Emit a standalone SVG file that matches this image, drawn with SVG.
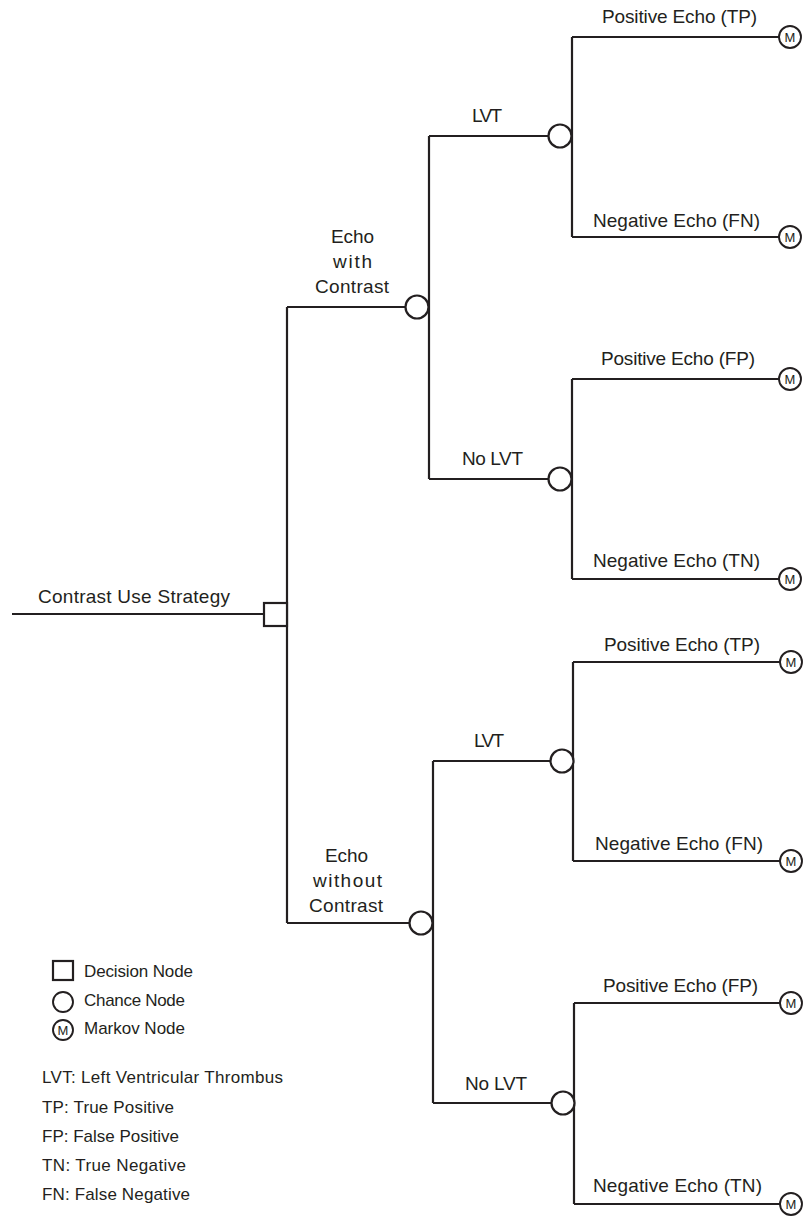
<svg xmlns="http://www.w3.org/2000/svg" width="805" height="1216" viewBox="0 0 805 1216">
<style>
.ln{fill:none;stroke:#231f20;stroke-width:2.2}
.nd{fill:#fff;stroke:#231f20;stroke-width:2.2}
.mk{fill:#fff;stroke:#231f20;stroke-width:1.9}
.t{font-family:"Liberation Sans",Arial,sans-serif;font-size:19px;fill:#231f20}
.lg{font-family:"Liberation Sans",Arial,sans-serif;font-size:17px;fill:#231f20}
.m{font-family:"Liberation Sans",Arial,sans-serif;font-size:13px;fill:#231f20;text-anchor:middle}
</style>
<rect width="805" height="1216" fill="#fff"/>
<g id="connectors">
<path class="ln" d="M12,614 H264"/>
<path class="ln" d="M287,307 V923"/>
<path class="ln" d="M287,307 H406"/>
<path class="ln" d="M287,923 H410"/>
<path class="ln" d="M429,136 V479"/>
<path class="ln" d="M429,136 H549"/>
<path class="ln" d="M429,479 H549"/>
<path class="ln" d="M433,761 V1103"/>
<path class="ln" d="M433,761 H551"/>
<path class="ln" d="M433,1103 H552"/>
<path class="ln" d="M572,37 V237 M572,37 H779 M572,237 H779"/>
<path class="ln" d="M572,379 V579 M572,379 H779 M572,579 H779"/>
<path class="ln" d="M573,662 V861 M573,662 H780 M573,861 H780"/>
<path class="ln" d="M574,1003 V1204 M574,1003 H780 M574,1204 H780"/>
</g>
<g id="root-label"><text class="t" x="38" y="603" textLength="192">Contrast Use Strategy</text></g>
<g id="decision"><rect class="nd" x="264" y="603" width="23" height="23"/></g>
<g id="echo-with-contrast">
<circle class="nd" cx="417" cy="307" r="11.5"/>
<text class="t" x="331" y="243" textLength="43">Echo</text>
<text class="t" x="333" y="268" textLength="39">with</text>
<text class="t" x="315" y="293" textLength="74">Contrast</text>
</g>
<g id="echo-without-contrast">
<circle class="nd" cx="421" cy="923" r="11.5"/>
<text class="t" x="325" y="862" textLength="43">Echo</text>
<text class="t" x="313" y="887" textLength="69">without</text>
<text class="t" x="309" y="912" textLength="74">Contrast</text>
</g>
<g id="lvt-1">
<circle class="nd" cx="560" cy="136" r="11.5"/>
<text class="t" x="472" y="122" textLength="30">LVT</text>
</g>
<g id="nolvt-1">
<circle class="nd" cx="560" cy="479" r="11.5"/>
<text class="t" x="462" y="465" textLength="61">No LVT</text>
</g>
<g id="lvt-2">
<circle class="nd" cx="562" cy="761" r="11.5"/>
<text class="t" x="474" y="747" textLength="30">LVT</text>
</g>
<g id="nolvt-2">
<circle class="nd" cx="563" cy="1103" r="11.5"/>
<text class="t" x="465" y="1090" textLength="62">No LVT</text>
</g>
<g id="m1"><circle class="mk" cx="790" cy="37" r="11"/><text class="m" x="790" y="41.7">M</text><text class="t" x="602" y="23" textLength="155">Positive Echo (TP)</text></g>
<g id="m2"><circle class="mk" cx="790" cy="237" r="11"/><text class="m" x="790" y="241.7">M</text><text class="t" x="593" y="227" textLength="167">Negative Echo (FN)</text></g>
<g id="m3"><circle class="mk" cx="790" cy="379" r="11"/><text class="m" x="790" y="383.7">M</text><text class="t" x="601" y="365" textLength="154">Positive Echo (FP)</text></g>
<g id="m4"><circle class="mk" cx="790" cy="579" r="11"/><text class="m" x="790" y="583.7">M</text><text class="t" x="593" y="567" textLength="167">Negative Echo (TN)</text></g>
<g id="m5"><circle class="mk" cx="791" cy="662" r="11"/><text class="m" x="791" y="666.7">M</text><text class="t" x="604" y="651" textLength="156">Positive Echo (TP)</text></g>
<g id="m6"><circle class="mk" cx="791" cy="861" r="11"/><text class="m" x="791" y="865.7">M</text><text class="t" x="595" y="850" textLength="168">Negative Echo (FN)</text></g>
<g id="m7"><circle class="mk" cx="791" cy="1003" r="11"/><text class="m" x="791" y="1007.7">M</text><text class="t" x="603" y="992" textLength="155">Positive Echo (FP)</text></g>
<g id="m8"><circle class="mk" cx="791" cy="1204" r="11"/><text class="m" x="791" y="1208.7">M</text><text class="t" x="593" y="1192" textLength="169">Negative Echo (TN)</text></g>
<g id="legend">
<rect class="nd" x="53" y="961" width="20" height="19" stroke-width="1.9"/>
<text class="lg" x="84" y="977" textLength="109">Decision Node</text>
<circle class="mk" cx="63" cy="1002" r="10"/>
<text class="lg" x="84" y="1006" textLength="101">Chance Node</text>
<circle class="mk" cx="63" cy="1030" r="10"/>
<text class="m" x="63" y="1034.5" font-size="12">M</text>
<text class="lg" x="84" y="1034" textLength="101">Markov Node</text>
<text class="lg" x="42" y="1083" textLength="241">LVT: Left Ventricular Thrombus</text>
<text class="lg" x="42" y="1113" textLength="132">TP: True Positive</text>
<text class="lg" x="42" y="1142" textLength="137">FP: False Positive</text>
<text class="lg" x="42" y="1171" textLength="144">TN: True Negative</text>
<text class="lg" x="42" y="1200" textLength="148">FN: False Negative</text>
</g>
</svg>
